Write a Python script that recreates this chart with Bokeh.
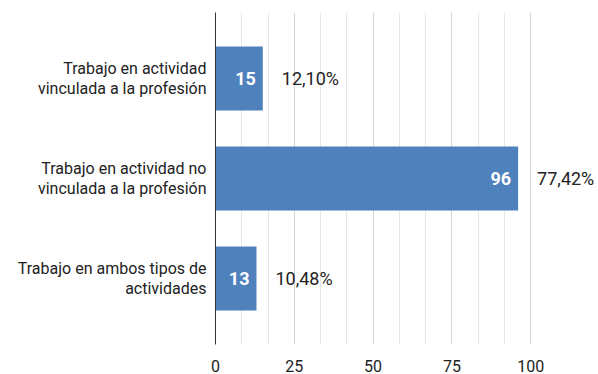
from bokeh.plotting import figure
from bokeh.models import ColumnDataSource, FixedTicker, Range1d, FactorRange
from bokeh.core.properties import value
from bokeh.embed import file_html
from bokeh.resources import INLINE

categories = ["Trabajo en actividad\nvinculada a la profesión",
              "Trabajo en actividad no\nvinculada a la profesión",
              "Trabajo en ambos tipos de\nactividades"]
counts = [15, 96, 13]
percents = ["12,10%", "77,42%", "10,48%"]
x_ticks = [0, 25, 50, 75, 100]

FONT = "Roboto"
BAR = "#4f81bd"

src = ColumnDataSource(dict(cat=categories, n=counts, pct=percents,
                            nlab=[str(v) for v in counts]))

p = figure(width=598, height=374, output_backend="svg", toolbar_location=None,
           y_range=FactorRange(factors=list(reversed(categories)), range_padding=0.107),
           x_range=Range1d(0, 121.5),
           min_border_left=215, min_border_top=12, min_border_right=0, min_border_bottom=26)
p.outline_line_color = None

p.hbar(y="cat", right="n", height=0.64, source=src, fill_color=BAR, line_color=None)

p.text(x="n", y="cat", text="nlab", source=src, text_align="right", text_baseline="middle",
       x_offset=-7, text_color="white", text_font=value(FONT), text_font_style="bold",
       text_font_size="18px")
p.text(x="n", y="cat", text="pct", source=src, text_align="left", text_baseline="middle",
       x_offset=19, text_color="#222222", text_font=value(FONT), text_font_size="18px")

minor = [i * 25 / 3 for i in range(1, 13) if i % 3 != 0]
p.xaxis.ticker = FixedTicker(ticks=x_ticks, minor_ticks=minor)
p.xaxis.axis_line_color = None
p.xaxis.major_tick_line_color = None
p.xaxis.minor_tick_line_color = None
p.xaxis.major_label_standoff = 9
p.xaxis.major_label_text_font = FONT
p.xaxis.major_label_text_font_size = "16px"
p.xaxis.major_label_text_line_height = 1.0
p.xaxis.major_label_text_color = "#222222"

p.xgrid.grid_line_color = "#d4d4d4"
p.xgrid.minor_grid_line_color = "#e6e6e6"
p.ygrid.grid_line_color = None

p.yaxis.axis_line_color = "#333333"
p.yaxis.major_tick_line_color = None
p.yaxis.minor_tick_line_color = None
p.yaxis.major_label_standoff = 3
p.yaxis.major_label_text_font = FONT
p.yaxis.major_label_text_font_size = "16px"
p.yaxis.major_label_text_line_height = 1.1
p.yaxis.major_label_text_color = "#222222"

open("out.html", "w").write(file_html(p, INLINE))
